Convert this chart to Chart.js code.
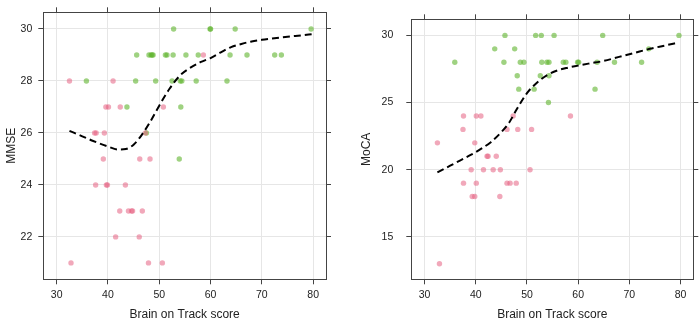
<!DOCTYPE html>
<html>
<head>
<meta charset="utf-8">
<script src="https://cdn.jsdelivr.net/npm/chart.js@4.4.1/dist/chart.umd.min.js"></script>
<style>
  html, body { margin: 0; padding: 0; background: #ffffff; }
  .panel { position: absolute; top: 0; width: 350px; height: 320px; }
  #pL { left: 0; }
  #pR { left: 350px; }
</style>
</head>
<body>
<div class="panel" id="pL"><canvas id="cL" width="350" height="320"></canvas></div>
<div class="panel" id="pR"><canvas id="cR" width="350" height="320"></canvas></div>
<script>
// ---------- data ----------
const xTicks = [30, 40, 50, 60, 70, 80];
const mmseTicks = [22, 24, 26, 28, 30];
const mocaTicks = [15, 20, 25, 30];

// MMSE panel, pink (lower group)
const mmsePinkBoT   = [58.6, 32.5, 41.0, 39.6, 40.1, 42.4, 50.8, 37.4, 37.7, 39.3, 47.3, 39.1, 46.2, 48.2,
                       37.6, 39.7, 39.9, 43.4, 42.3, 44.0, 44.6, 44.8, 46.7, 41.5, 46.1, 32.8, 47.9, 50.6];
const mmsePinkScore = [29, 28, 28, 27, 27, 27, 27, 26, 26, 26, 26, 25, 25, 25,
                       24, 24, 24, 24, 23, 23, 23, 23, 23, 22, 22, 21, 21, 21];
// MMSE panel, green (higher group)
const mmseGreenBoT   = [52.8, 59.9, 60.0, 64.8, 79.6,
                        45.6, 48.0, 48.4, 48.6, 48.8, 51.2, 51.5, 52.7, 55.2, 57.6, 63.8, 67.1, 72.5, 73.8,
                        35.8, 45.4, 49.3, 52.5, 54.1, 54.4, 57.2, 63.2,
                        43.7, 54.2, 47.5, 53.9];
const mmseGreenScore = [30, 30, 30, 30, 30,
                        29, 29, 29, 29, 29, 29, 29, 29, 29, 29, 29, 29, 29, 29,
                        28, 28, 28, 28, 28, 28, 28, 28,
                        27, 27, 26, 25];
// MMSE smooth (dashed) curve
const mmseFitX = [32.5, 35, 37, 40, 42, 43.5, 45, 46.5, 48, 50, 52, 54, 56, 58, 60, 62, 64, 66, 68, 70, 72, 75, 78, 79.7];
const mmseFitY = [26.08, 25.87, 25.7, 25.48, 25.36, 25.38, 25.55, 25.9, 26.35, 27.05, 27.7, 28.2, 28.5, 28.72,
                  28.88, 29.1, 29.3, 29.42, 29.52, 29.58, 29.63, 29.7, 29.76, 29.8];

// MoCA panel, pink
const mocaPinkBoT   = [37.6, 40.1, 41.0, 47.3, 58.5, 37.5, 46.1, 48.2, 50.9, 32.5, 39.8, 42.2, 42.4, 44.0,
                       39.1, 41.5, 43.4, 44.8, 50.6, 37.6, 40.1, 46.1, 46.7, 47.9, 39.3, 39.8, 44.7, 32.9];
const mocaPinkScore = [24, 24, 24, 24, 24, 23, 23, 23, 23, 22, 22, 21, 21, 21,
                       20, 20, 20, 20, 20, 19, 19, 19, 19, 19, 18, 18, 18, 13];
// MoCA panel, green
const mocaGreenBoT   = [45.7, 51.7, 52.8, 55.3, 64.8, 79.7, 43.7, 47.6, 73.8,
                        35.9, 45.5, 48.7, 49.4, 52.9, 53.9, 54.3, 57.1, 57.6, 59.9, 60.1, 63.7, 67.1, 72.4,
                        48.1, 52.6, 54.3, 48.4, 51.4, 63.3, 54.2];
const mocaGreenScore = [30, 30, 30, 30, 30, 30, 29, 29, 29,
                        28, 28, 28, 28, 28, 28, 28, 28, 28, 28, 28, 28, 28, 28,
                        27, 27, 27, 26, 26, 26, 25];
// MoCA smooth (dashed) curve
const mocaFitX = [32.5, 35, 37, 39, 41, 43, 45, 46.5, 48, 50, 52, 54, 56, 58, 60, 62, 65, 68, 71, 74, 77, 79.7];
const mocaFitY = [19.8, 20.3, 20.7, 21.1, 21.55, 22.07, 22.8, 23.5, 24.5, 25.7, 26.5, 27.05, 27.4, 27.6,
                  27.75, 27.9, 28.1, 28.4, 28.7, 29.0, 29.25, 29.48];

// ---------- styling ----------
Chart.defaults.font.family = "'Liberation Sans', Arial, sans-serif";
Chart.defaults.color = '#222';
const PINK = 'rgba(230, 97, 130, 0.55)';
const GREEN = 'rgba(95, 180, 45, 0.6)';
const BOX = '#444';
const GRID = '#e6e6e6';

const pts = (xs, ys) => xs.map((x, i) => ({ x: x, y: ys[i] }));
const setTicks = arr => scale => { scale.ticks = arr.map(v => ({ value: v })); };

function makeChart(id, cfg) {
  const xMin = 27.4, xMax = 82.5;
  const common = {
    type: 'linear', min: 0, max: 1,
    border: { display: true, color: BOX, width: 1 },
  };
  new Chart(document.getElementById(id), {
    type: 'scatter',
    data: {
      datasets: [
        { data: pts(cfg.fitX, cfg.fitY), showLine: true, pointRadius: 0, borderColor: '#000',
          borderWidth: 2, borderDash: [7, 4], cubicInterpolationMode: 'monotone', fill: false },
        { data: pts(cfg.pinkX, cfg.pinkY), pointRadius: 2.7, pointHoverRadius: 2.7,
          backgroundColor: PINK, borderWidth: 0 },
        { data: pts(cfg.greenX, cfg.greenY), pointRadius: 2.7, pointHoverRadius: 2.7,
          backgroundColor: GREEN, borderWidth: 0 }
      ]
    },
    options: {
      responsive: false, animation: false, events: [],
      layout: { padding: 0 },
      plugins: { legend: { display: false }, tooltip: { enabled: false } },
      scales: {
        x: Object.assign({}, common, {
          position: 'bottom', min: xMin, max: xMax,
          afterBuildTicks: setTicks(xTicks),
          afterFit: s => { s.height = 40.7; },
          grid: { color: GRID, tickColor: BOX, tickLength: 5, drawTicks: true },
          ticks: { padding: 5, font: { size: 10.5 }, color: '#222' },
          title: { display: true, text: 'Brain on Track score', font: { size: 12 }, color: '#222',
                   padding: { top: 0, bottom: -2 } }
        }),
        xTop: Object.assign({}, common, {
          position: 'top', min: xMin, max: xMax,
          afterBuildTicks: setTicks(xTicks),
          afterFit: s => { s.height = 6; },
          grid: { drawOnChartArea: false, tickColor: BOX, tickLength: 5 },
          ticks: { display: false }
        }),
        y: Object.assign({}, common, {
          position: 'left', min: cfg.yMin, max: cfg.yMax,
          afterBuildTicks: setTicks(cfg.yTicks),
          afterFit: s => { s.width = cfg.leftW; },
          grid: { color: GRID, tickColor: BOX, tickLength: 5 },
          ticks: { padding: cfg.yPad, font: { size: 10.5 }, color: '#222' },
          title: { display: true, text: cfg.yTitle, font: { size: 12 }, color: '#222',
                   padding: { top: cfg.yTitlePad, bottom: 0 } }
        }),
        yRight: Object.assign({}, common, {
          position: 'right', min: cfg.yMin, max: cfg.yMax,
          afterBuildTicks: setTicks(cfg.yTicks),
          afterFit: s => { s.width = cfg.rightW; },
          grid: { drawOnChartArea: false, tickColor: BOX, tickLength: 5 },
          ticks: { display: false }
        })
      }
    }
  });
}

makeChart('cL', {
  fitX: mmseFitX, fitY: mmseFitY,
  pinkX: mmsePinkBoT, pinkY: mmsePinkScore,
  greenX: mmseGreenBoT, greenY: mmseGreenScore,
  yMin: 20.37, yMax: 30.64, yTicks: mmseTicks, yTitle: 'MMSE',
  leftW: 43.3, rightW: 24, yPad: 6, yTitlePad: 4
});
makeChart('cR', {
  fitX: mocaFitX, fitY: mocaFitY,
  pinkX: mocaPinkBoT, pinkY: mocaPinkScore,
  greenX: mocaGreenBoT, greenY: mocaGreenScore,
  yMin: 11.84, yMax: 31.2, yTicks: mocaTicks, yTitle: 'MoCA',
  leftW: 61.3, rightW: 6.7, yPad: 13, yTitlePad: 9
});
</script>
</body>
</html>
